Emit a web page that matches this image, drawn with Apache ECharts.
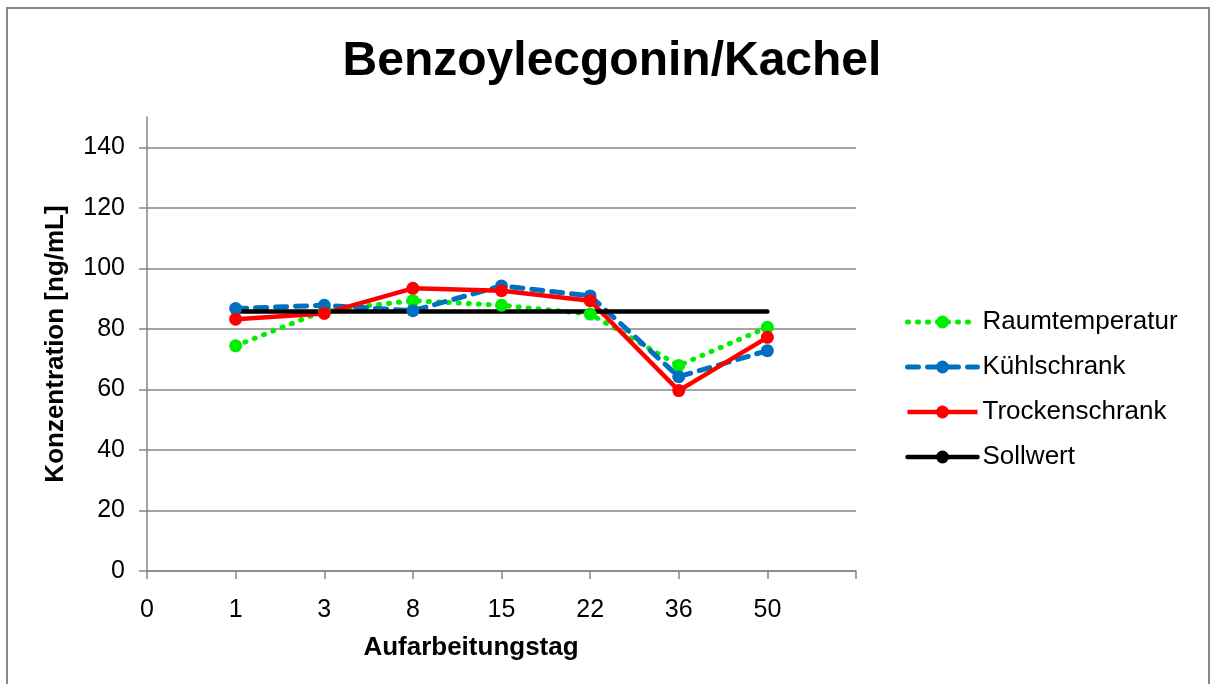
<!DOCTYPE html>
<html>
<head>
<meta charset="utf-8">
<script src="https://cdn.jsdelivr.net/npm/echarts@6/dist/echarts.min.js"></script>
<style>
  html, body { margin: 0; padding: 0; background: #fff; }
  #chart { width: 1212px; height: 684px; }
  #frame { position: absolute; left: 6px; top: 7px; width: 1200px; height: 700px;
           border: 2px solid #868686; pointer-events: none; }
</style>
</head>
<body>
<div id="chart"></div>
<div id="frame"></div>
<script>
var tickLabels = ['0', '1', '3', '8', '15', '22', '36', '50', ''];
var days = ['1', '3', '8', '15', '22', '36', '50'];
var raumtemperatur = [74.4, 86, 89.3, 87.8, 84.9, 67.9, 80.5];
var kuehlschrank = [86.7, 87.8, 86, 94.2, 90.9, 64.2, 72.8];
var trockenschrank = [83.2, 85.1, 93.4, 92.6, 89.3, 59.6, 77.2];
var sollwert = [85.7, 85.7, 85.7, 85.7, 85.7, 85.7, 85.7];
var yTicks = [0, 20, 40, 60, 80, 100, 120, 140];

function toPoints(values) {
  return days.map(function (d, i) { return [i + 1, values[i]]; });
}

var font = 'Liberation Sans, Arial, sans-serif';

var greenLine = { color: '#00ee00', width: 5, type: [1, 9], cap: 'round' };
var blueLine = { color: '#0070c0', width: 5, type: [11, 9], cap: 'round' };
var redLine = { color: '#ff0000', width: 4.5 };
var blackLine = { color: '#000', width: 4.5, cap: 'round' };

echarts.init(document.getElementById('chart')).setOption({
  animation: false,
  title: [
    {
      text: 'Benzoylecgonin/Kachel',
      left: 607,
      top: 33,
      textAlign: 'center',
      textStyle: { fontFamily: font, fontSize: 48, fontWeight: 'bold', color: '#000' }
    },
    {
      text: 'Aufarbeitungstag',
      left: 466,
      top: 630,
      textAlign: 'center',
      textStyle: { fontFamily: font, fontSize: 26, fontWeight: 'bold', color: '#000' }
    }
  ],
  legend: {
    orient: 'vertical',
    left: 900,
    top: 304,
    itemWidth: 70,
    itemHeight: 16,
    itemGap: 19,
    textStyle: { fontFamily: font, fontSize: 26, color: '#000' },
    data: [
      { name: 'Raumtemperatur', lineStyle: greenLine },
      { name: 'Kühlschrank', lineStyle: blueLine },
      { name: 'Trockenschrank', lineStyle: redLine },
      { name: 'Sollwert', lineStyle: blackLine }
    ]
  },
  grid: { left: 147, right: 356, top: 117, bottom: 113 },
  xAxis: {
    type: 'value',
    min: 0,
    max: 8,
    interval: 1,
    axisLine: { show: true, lineStyle: { color: '#868686', width: 1.5 } },
    axisTick: { show: true, length: 8, lineStyle: { color: '#868686', width: 1.5 } },
    splitLine: { show: false },
    axisLabel: {
      margin: 27,
      fontFamily: font,
      fontSize: 25,
      color: '#000',
      formatter: function (v) { return tickLabels[v]; }
    }
  },
  yAxis: {
    type: 'value',
    min: 0,
    max: 150,
    interval: 20,
    name: 'Konzentration [ng/mL]',
    nameLocation: 'middle',
    nameGap: 78,
    nameTextStyle: { fontFamily: font, fontSize: 26, fontWeight: 'bold', color: '#000' },
    axisLine: { show: true, lineStyle: { color: '#868686', width: 1.5 } },
    axisTick: { show: true, length: 8, customValues: yTicks, lineStyle: { color: '#868686', width: 1.5 } },
    splitLine: { show: true, lineStyle: { color: '#868686', width: 1.5 } },
    axisLabel: {
      margin: 22,
      fontFamily: font,
      fontSize: 25,
      color: '#000',
      customValues: yTicks
    }
  },
  series: [
    {
      name: 'Raumtemperatur',
      type: 'line',
      data: toPoints(raumtemperatur),
      symbol: 'circle',
      symbolSize: 13,
      itemStyle: { color: '#00ee00' },
      lineStyle: greenLine
    },
    {
      name: 'Kühlschrank',
      type: 'line',
      data: toPoints(kuehlschrank),
      symbol: 'circle',
      symbolSize: 13,
      itemStyle: { color: '#0070c0' },
      lineStyle: blueLine
    },
    {
      name: 'Trockenschrank',
      type: 'line',
      data: toPoints(trockenschrank),
      symbol: 'circle',
      symbolSize: 13,
      itemStyle: { color: '#ff0000' },
      lineStyle: redLine
    },
    {
      name: 'Sollwert',
      type: 'line',
      data: toPoints(sollwert),
      symbol: 'none',
      itemStyle: { color: '#000' },
      lineStyle: blackLine
    }
  ]
});
</script>
</body>
</html>
